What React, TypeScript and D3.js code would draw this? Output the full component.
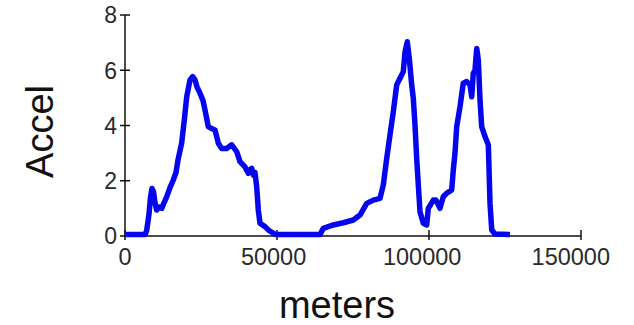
import React from "react";
import * as d3 from "d3";

const meters: number[] = [
  0, 6580, 7140, 7900, 8390, 8880, 9380, 9870, 10430, 11180, 12070, 12830, 13720, 14800, 15790, 16780, 17430,
  18650, 19510, 20300, 21380, 22270, 23030, 23680, 24670, 25660, 26320, 27400, 28290, 29610, 30690, 31810,
  33450, 35100, 36740, 37830, 39470, 40560, 41120, 41670, 42270, 42760, 43320, 43850, 44410, 46050, 47140,
  48780, 49670, 64150, 65230, 68520, 71810, 75100, 77300, 79510, 81680, 83880, 84970, 86090, 87170, 88260,
  89380, 90460, 91550, 92110, 92860, 93520, 94310, 94840, 95390, 95950, 96480, 97040, 98130, 99240, 99770,
  101420, 102300, 103620, 104700, 105830, 107470, 107990, 108550, 109110, 110200, 111280, 112400, 113490,
  114050, 114570, 115130, 115700, 116220, 116780, 117330, 118420, 119510, 120070, 120630, 121710, 126650,
];
const accel: number[] = [
  0.05, 0.05, 0.2, 0.8, 1.4, 1.72, 1.6, 1.2, 0.94, 1.05, 1.0, 1.2, 1.42, 1.75, 2.0, 2.3, 2.75,
  3.37, 4.2, 5.04, 5.65, 5.77, 5.65, 5.4, 5.17, 4.9, 4.56, 3.96, 3.9, 3.84, 3.36, 3.17,
  3.17, 3.3, 3.05, 2.69, 2.5, 2.27, 2.4, 2.45, 2.2, 2.3, 1.78, 0.94, 0.46, 0.34, 0.22,
  0.1, 0.05, 0.05, 0.28, 0.4, 0.48, 0.58, 0.76, 1.18, 1.3, 1.36, 1.85, 2.81, 3.66, 4.5,
  5.47, 5.71, 5.95, 6.67, 7.03, 6.43, 5.47, 4.98, 4.02, 2.81, 1.85, 0.88, 0.46, 0.4, 1.0,
  1.3, 1.3, 1.0, 1.42, 1.55, 1.67, 2.39, 3.0, 3.96, 4.68, 5.53, 5.59, 5.47,
  5.04, 5.89, 6.0, 6.79, 6.37, 4.92, 3.96, 3.6, 3.3, 1.18, 0.22, 0.07, 0.05,
];
const xTicks: number[] = [0, 50000, 100000, 150000];
const yTicks: number[] = [0, 2, 4, 6, 8];
const xLabel = "meters";
const yLabel = "Accel";

export default function App() {
  const W = 634;
  const H = 325;
  const x = d3.scaleLinear().domain([0, 150000]).range([125, 581]);
  const y = d3.scaleLinear().domain([0, 8]).range([236, 15]);
  const pts: [number, number][] = meters.map((m, i) => [m, accel[i]]);
  const line = d3
    .line<[number, number]>()
    .x((d) => x(d[0]))
    .y((d) => y(d[1]))
    .curve(d3.curveLinear);
  const font = "'Liberation Sans', Arial, sans-serif";
  return (
    <svg
      width={W}
      height={H}
      style={{ position: "absolute", left: 0, top: 0, background: "#fff" }}
    >
      <rect width={W} height={H} fill="#fff" />
      <line x1={x(0)} x2={x(0)} y1={y(8)} y2={y(0)} stroke="#111" strokeWidth={1.5} />
      <line x1={x(0)} x2={x(150000)} y1={y(0)} y2={y(0)} stroke="#111" strokeWidth={1.5} />
      {yTicks.map((t) => (
        <g key={"y" + t}>
          <line x1={x(0) - 5} x2={x(0) + 5} y1={y(t)} y2={y(t)} stroke="#111" strokeWidth={1.5} />
          <text
            x={117}
            y={y(t)}
            dy="0.36em"
            textAnchor="end"
            fontFamily={font}
            fontSize={23}
            fill="#2a2a2a"
          >
            {t}
          </text>
        </g>
      ))}
      {xTicks.map((t, i) => (
        <g key={"x" + t}>
          <line x1={x(t)} x2={x(t)} y1={y(0) - 6} y2={y(0) + 4} stroke="#111" strokeWidth={1.5} />
          <text
            x={x(t) - i * 3.4}
            y={265}
            textAnchor="middle"
            fontFamily={font}
            fontSize={23.5}
            fill="#2a2a2a"
          >
            {t}
          </text>
        </g>
      ))}
      <path
        d={line(pts) || ""}
        fill="none"
        stroke="#0606ee"
        strokeWidth={5.5}
        strokeLinejoin="round"
        strokeLinecap="butt"
      />
      <text
        transform={`translate(53, 131.5) rotate(-90)`}
        textAnchor="middle"
        fontFamily={font}
        fontSize={38}
        fill="#111"
      >
        {yLabel}
      </text>
      <text x={337} y={318} textAnchor="middle" fontFamily={font} fontSize={38} fill="#111">
        {xLabel}
      </text>
    </svg>
  );
}
